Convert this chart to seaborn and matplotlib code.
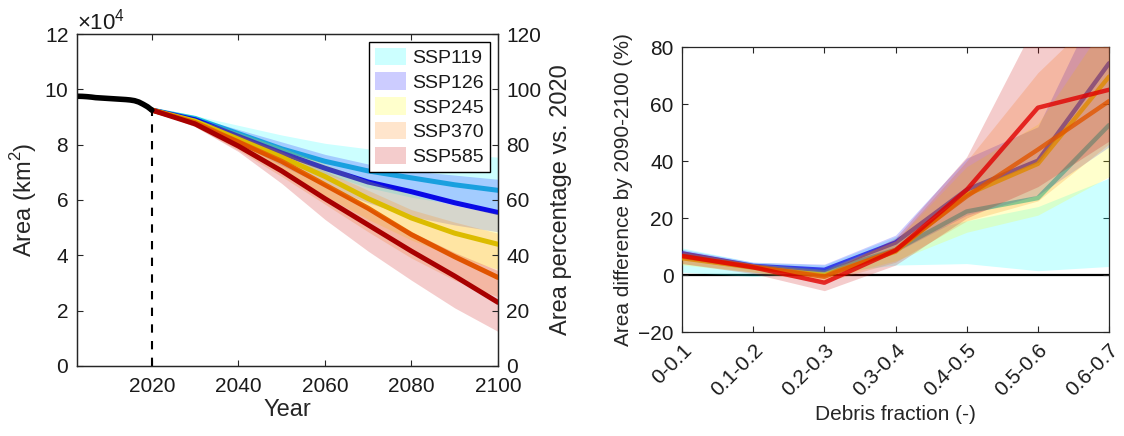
import matplotlib

matplotlib.use("Agg")
import matplotlib.pyplot as plt
import pandas as pd
import seaborn as sns
from matplotlib.ticker import ScalarFormatter

# ---------------- data: left panel (glacier area, km2) ----------------
hist_years = list(range(2003, 2021))
hist_area = [97500, 97450, 97350, 97200, 97000, 96900, 96800, 96700, 96600,
             96500, 96400, 96300, 96150, 95900, 95400, 94600, 93700, 92500]

proj_years = [2020, 2030, 2040, 2050, 2060, 2070, 2080, 2090, 2100]
scenarios = ["SSP119", "SSP126", "SSP245", "SSP370", "SSP585"]

med_119 = [92500, 89500, 84000, 78500, 74000, 70500, 68000, 65500, 63500]
med_126 = [92500, 89000, 83000, 77000, 71500, 66500, 63000, 59000, 55500]
med_245 = [92500, 88500, 82000, 75500, 68500, 60500, 53500, 48000, 44000]
med_370 = [92500, 88000, 81000, 74000, 65500, 57000, 47500, 39500, 32000]
med_585 = [92500, 87500, 79500, 70500, 60500, 51000, 41500, 32500, 23000]

hi_119 = [92500, 90500, 87000, 83500, 80500, 78500, 77500, 76500, 75500]
lo_119 = [92500, 88500, 82000, 75500, 69500, 64500, 61000, 58500, 56500]
hi_126 = [92500, 90000, 85500, 81000, 76500, 73000, 70500, 69000, 67500]
lo_126 = [92500, 87500, 80500, 72500, 65000, 59000, 54000, 51000, 48500]
hi_245 = [92500, 89500, 84500, 79000, 73000, 67000, 62000, 58000, 55000]
lo_245 = [92500, 87000, 79000, 70500, 61500, 53000, 45500, 39500, 35000]
hi_370 = [92500, 89000, 83500, 77500, 70500, 63500, 56500, 52000, 48000]
lo_370 = [92500, 86500, 78000, 68500, 58500, 48500, 39000, 31000, 25000]
hi_585 = [92500, 88500, 82000, 74500, 66000, 57500, 48500, 41000, 34500]
lo_585 = [92500, 86500, 77500, 66000, 53000, 41500, 31000, 21000, 12500]

# ---------------- data: right panel (area difference, %) ----------------
debris_bins = ["0-0.1", "0.1-0.2", "0.2-0.3", "0.3-0.4", "0.4-0.5", "0.5-0.6", "0.6-0.7"]
diff_119 = [7.0, 2.9, 1.2, 8.8, 22.3, 27.0, 52.6]
diff_126 = [7.6, 3.2, 1.8, 11.4, 29.9, 40.1, 74.3]
diff_245 = [5.9, 2.6, 0.0, 8.2, 28.2, 39.0, 69.6]
diff_370 = [6.5, 2.9, -0.6, 8.8, 27.6, 44.0, 61.0]
diff_585 = [6.7, 2.7, -2.7, 8.6, 29.9, 58.7, 65.0]

dlo_119 = [1.0, -0.5, 0.5, 3.5, 4.0, 1.5, 3.0]
dhi_119 = [9.5, 4.5, 3.5, 13.5, 19.0, 24.0, 34.0]
dlo_126 = [5.5, 2.0, 0.5, 8.0, 21.0, 28.0, 45.0]
dhi_126 = [9.0, 4.5, 3.8, 14.0, 41.0, 52.0, 104.0]
dlo_245 = [3.5, 1.0, -1.5, 5.0, 15.0, 21.0, 34.5]
dhi_245 = [8.0, 4.0, 2.0, 12.0, 38.0, 53.0, 90.0]
dlo_370 = [4.0, 1.0, -2.5, 4.5, 19.0, 26.0, 46.0]
dhi_370 = [8.5, 4.0, 1.5, 12.0, 40.0, 71.0, 95.0]
dlo_585 = [4.0, 0.5, -5.5, 3.5, 20.0, 31.0, 47.0]
dhi_585 = [8.5, 4.0, 0.5, 13.0, 41.5, 90.0, 110.0]

line_colors = ["#20c8d8", "#0a0ae6", "#d4cc00", "#e66a00", "#a80000"]
line_colors_r = ["#20c8d8", "#1a1ae6", "#e0b800", "#e66a00", "#e00000"]
band_colors = ["#00ffff", "#0000ff", "#ffff00", "#ff8000", "#cc0000"]

area = pd.DataFrame({"year": proj_years})
for s, m, lo, hi in zip(scenarios,
                        [med_119, med_126, med_245, med_370, med_585],
                        [lo_119, lo_126, lo_245, lo_370, lo_585],
                        [hi_119, hi_126, hi_245, hi_370, hi_585]):
    area[s] = m
    area[s + "_lo"] = lo
    area[s + "_hi"] = hi

diff = pd.DataFrame({"bin": debris_bins, "pos": range(len(debris_bins))})
for s, m, lo, hi in zip(scenarios,
                        [diff_119, diff_126, diff_245, diff_370, diff_585],
                        [dlo_119, dlo_126, dlo_245, dlo_370, dlo_585],
                        [dhi_119, dhi_126, dhi_245, dhi_370, dhi_585]):
    diff[s] = m
    diff[s + "_lo"] = lo
    diff[s + "_hi"] = hi

sns.set_style("ticks", {"xtick.direction": "in", "ytick.direction": "in"})
plt.rcParams["font.family"] = ["Liberation Sans", "DejaVu Sans"]
plt.rcParams["mathtext.fontset"] = "custom"
plt.rcParams["mathtext.rm"] = "Liberation Sans"
plt.rcParams["axes.edgecolor"] = "#262626"
plt.rcParams["axes.linewidth"] = 0.9
plt.rcParams["text.color"] = "#1a1a1a"
plt.rcParams["xtick.color"] = "#262626"
plt.rcParams["ytick.color"] = "#262626"
plt.rcParams["xtick.labelcolor"] = "#1a1a1a"
plt.rcParams["ytick.labelcolor"] = "#1a1a1a"

fig = plt.figure(figsize=(11.24, 4.36), dpi=100)

# ====================== LEFT PANEL ======================
ax = fig.add_axes([0.0685, 0.1606, 0.3745, 0.7614])
handles = []
for i, s in enumerate(scenarios):
    # band first, then its median; later bands veil earlier lines
    h = ax.fill_between(area["year"], area[s + "_lo"], area[s + "_hi"],
                        color=band_colors[i], alpha=0.2, lw=0, label=s,
                        zorder=2 * i + 1)
    handles.append(h)
    sns.lineplot(x=area["year"], y=area[s], color=line_colors[i], lw=3.6,
                 ax=ax, zorder=2 * i + 2)

sns.lineplot(x=hist_years, y=hist_area, color="black", lw=4, ax=ax, zorder=20)
ax.vlines(2020, 0, hist_area[-1], colors="black", linestyles=(0, (4, 4)),
          lw=1.5, zorder=20)

ax.set_xlim(2002.7, 2100)
ax.set_ylim(0, 120000)
ax.set_xticks([2020, 2040, 2060, 2080, 2100])
ax.set_yticks(range(0, 120001, 20000))
fmt = ScalarFormatter(useMathText=True)
fmt.set_powerlimits((4, 4))
ax.yaxis.set_major_formatter(fmt)
ax.yaxis.get_offset_text().set_fontsize(16)
ax.tick_params(axis="both", labelsize=15, top=True, right=False, length=4)
ax.tick_params(axis="x", pad=8)
ax.tick_params(axis="y", pad=6)
ax.set_xlabel("Year", fontsize=17, labelpad=2)
ax.set_ylabel("Area (km$^2$)", fontsize=17)
ax.legend(handles=handles, loc="upper right", fontsize=14, frameon=True,
          fancybox=False, edgecolor="black", framealpha=1, handlelength=1.6,
          handleheight=1.0, labelspacing=0.28, handletextpad=0.35,
          borderpad=0.3, borderaxespad=0.4).set_zorder(30)

ax2 = ax.twinx()
ax2.set_ylim(0, 120)
ax2.set_yticks(range(0, 121, 20))
ax2.tick_params(axis="y", labelsize=15, direction="in", length=4, pad=6)
ax2.set_ylabel("Area percentage vs. 2020", fontsize=17, labelpad=6)

# ====================== RIGHT PANEL ======================
bx = fig.add_axes([0.6068, 0.2385, 0.3799, 0.6537])
bx.axhline(0, color="black", lw=1.6, zorder=0.5)
for i, s in enumerate(scenarios):
    bx.fill_between(diff["pos"], diff[s + "_lo"], diff[s + "_hi"],
                    color=band_colors[i], alpha=0.2, lw=0, zorder=2 * i + 1)
    sns.lineplot(x=diff["pos"], y=diff[s], color=line_colors_r[i], lw=3.2,
                 alpha=0.8, ax=bx, zorder=2 * i + 2)

bx.set_xlim(0, len(debris_bins) - 1)
bx.set_ylim(-20, 80)
bx.set_yticks(range(-20, 81, 20))
bx.set_xticks(diff["pos"])
bx.set_xticklabels(debris_bins, rotation=45, ha="right", rotation_mode="anchor")
bx.tick_params(axis="both", labelsize=15, top=True, right=True, length=4, pad=6)
bx.set_xlabel("Debris fraction (-)", fontsize=15)
bx.set_ylabel("Area difference by 2090-2100 (%)", fontsize=15)

fig.savefig("out.png", dpi=100)
